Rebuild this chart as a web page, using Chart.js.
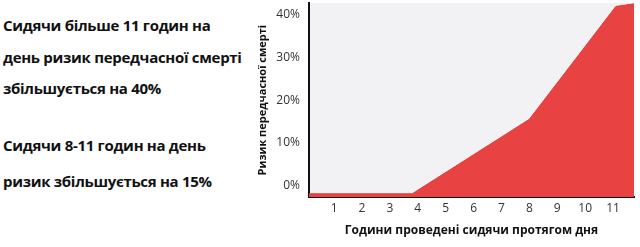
<!DOCTYPE html>
<html>
<head>
<meta charset="utf-8">
<script src="https://cdn.jsdelivr.net/npm/chart.js@4"></script>
<style>
  body { margin: 0; background: #fff; width: 640px; height: 247px; overflow: hidden; position: relative; }
  .note { position: absolute; left: 3px; font-family: "Open Sans", sans-serif; font-weight: bold; font-size: 15px; letter-spacing: -0.3px; color: #111; white-space: nowrap; }
  #myChart { position: absolute; left: 240px; top: 0; }
</style>
</head>
<body>
<div class="note" style="top:15px">Сидячи більше 11 годин на</div>
<div class="note" style="top:47px">день ризик передчасної смерті</div>
<div class="note" style="top:78px">збільшується на 40%</div>
<div class="note" style="top:135px">Сидячи 8-11 годин на день</div>
<div class="note" style="top:171px">ризик збільшується на 15%</div>
<canvas id="myChart" width="400" height="247"></canvas>
<script>
const hours = [0.1, 3.8, 8, 11.1, 11.75];
const risk = [-2, -2, 15.5, 42, 42.6];
const xTicks = [1, 2, 3, 4, 5, 6, 7, 8, 9, 10, 11];
const yTicks = [0, 10, 20, 30, 40];

const plotBg = {
  id: 'plotBg',
  beforeDraw(chart) {
    const a = chart.chartArea;
    chart.ctx.save();
    chart.ctx.fillStyle = '#f2f2f5';
    chart.ctx.fillRect(a.left, a.top, a.right - a.left, a.bottom - a.top);
    chart.ctx.restore();
  }
};

const ctx = document.getElementById('myChart');

new Chart(ctx, {
  type: 'line',
  data: {
    datasets: [{
      data: hours.map((h, i) => ({ x: h, y: risk[i] })),
      borderColor: '#e43c3c',
      borderWidth: 1,
      backgroundColor: '#e84242',
      fill: 'start',
      pointRadius: 0,
      tension: 0
    }]
  },
  options: {
    responsive: false,
    animation: false,
    layout: { padding: { top: 3, right: 6, left: 16, bottom: 9 } },
    plugins: { legend: { display: false }, tooltip: { enabled: false } },
    scales: {
      x: {
        type: 'linear',
        min: 0.1,
        max: 11.75,
        afterBuildTicks: s => { s.ticks = xTicks.map(v => ({ value: v })); },
        afterFit: s => { s.paddingLeft = 0; s.paddingRight = 0; },
        grid: { display: false, drawTicks: false },
        border: { color: '#111', width: 2 },
        ticks: { color: '#333', font: { family: 'Open Sans', size: 12 }, padding: 4, maxRotation: 0 },
        title: { display: true, text: 'Години проведені сидячи протягом дня', color: '#111',
          font: { family: 'Open Sans', size: 12, weight: 'bold' }, padding: { top: 4, bottom: 0 } }
      },
      y: {
        min: -2.8,
        max: 42.8,
        afterBuildTicks: s => { s.ticks = yTicks.map(v => ({ value: v })); },
        afterFit: s => { s.width = 69 - 16; s.paddingTop = 0; s.paddingBottom = 0; },
        grid: { display: false, drawTicks: false },
        border: { color: '#111', width: 2 },
        ticks: { color: '#333', font: { family: 'Open Sans', size: 12 }, padding: 9, callback: v => v + '%' },
        title: { display: true, text: 'Ризик передчасної смерті', color: '#111',
          font: { family: 'Open Sans', size: 11, weight: 'bold' }, padding: { top: 0, bottom: 4 } }
      }
    }
  },
  plugins: [plotBg]
});
</script>
</body>
</html>
